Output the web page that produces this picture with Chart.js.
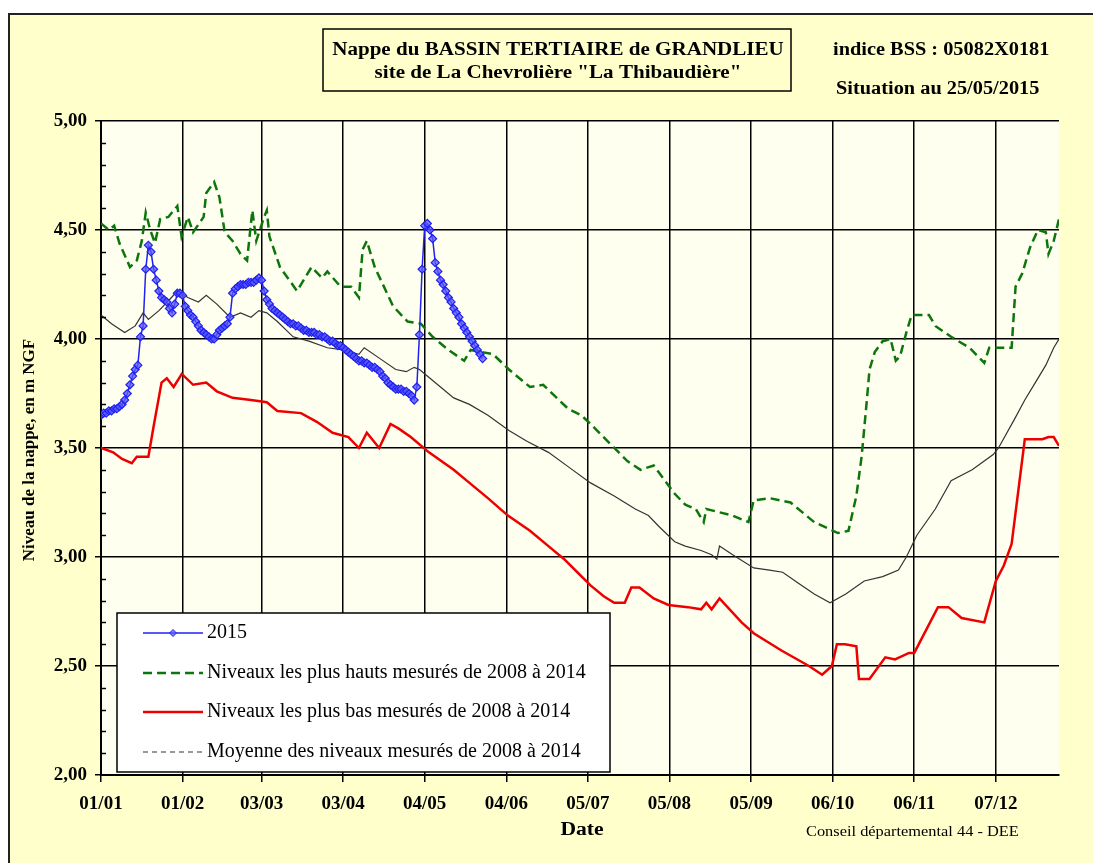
<!DOCTYPE html>
<html>
<head>
<meta charset="utf-8">
<script src="https://cdn.jsdelivr.net/npm/chart.js@4.4.0/dist/chart.umd.min.js"></script>
<style>
  html, body { margin: 0; padding: 0; background: #fff; }
</style>
</head>
<body>
<canvas id="nappeGraph" width="1093" height="863"></canvas>
<script>
// axe des dates (jour de l'annee) et libelles
const tickDays = [0, 31, 61, 92, 123, 154, 185, 216, 247, 278, 309, 340];
const tickLabels = ['01/01', '01/02', '03/03', '03/04', '04/05', '04/06', '05/07', '05/08', '05/09', '06/10', '06/11', '07/12'];

// 2015 : un releve par jour depuis le 01/01
const niveaux2015 = [
  3.65, 3.66, 3.66, 3.67, 3.67, 3.68, 3.68, 3.69, 3.70, 3.72,
  3.75, 3.79, 3.83, 3.86, 3.88, 4.01, 4.06, 4.32, 4.43, 4.40,
  4.32, 4.27, 4.22, 4.19, 4.18, 4.17, 4.14, 4.12, 4.16, 4.21,
  4.21, 4.20, 4.15, 4.13, 4.11, 4.10, 4.08, 4.06, 4.04, 4.03,
  4.02, 4.01, 4.00, 4.00, 4.02, 4.04, 4.05, 4.06, 4.07, 4.10,
  4.21, 4.23, 4.24, 4.25, 4.25, 4.25, 4.26, 4.26, 4.26, 4.27,
  4.28, 4.27, 4.22, 4.18, 4.16, 4.14, 4.13, 4.12, 4.11, 4.10,
  4.09, 4.08, 4.07, 4.07, 4.06, 4.06, 4.05, 4.04, 4.04, 4.03,
  4.03, 4.03, 4.02, 4.02, 4.01, 4.01, 4.00, 3.99, 3.99, 3.98,
  3.97, 3.97, 3.96, 3.95, 3.94, 3.93, 3.92, 3.91, 3.90, 3.90,
  3.89, 3.89, 3.88, 3.87, 3.87, 3.86, 3.85, 3.83, 3.82, 3.80,
  3.79, 3.78, 3.77, 3.77, 3.77, 3.76, 3.76, 3.75, 3.74, 3.72,
  3.78, 4.02, 4.32, 4.52, 4.53, 4.50, 4.46, 4.35, 4.31, 4.27,
  4.25, 4.22, 4.19, 4.17, 4.14, 4.12, 4.10, 4.07, 4.05, 4.03,
  4.01, 3.99, 3.97, 3.95, 3.93, 3.91
];

// niveaux les plus hauts 2008-2014
const joursHauts = [0, 3, 5, 7, 11, 13.6, 15.5, 17, 18.7, 20.5, 22.5, 25.6, 29, 30.6, 33, 35, 39, 40, 43, 45, 47, 50, 53, 55.5, 57.5, 59, 62, 63, 64, 68, 74.5, 80, 84, 86, 91, 95, 98, 99.4, 101, 104, 111, 116.5, 121.5, 126, 132, 138, 140.5, 149, 155, 163, 168, 177.5, 182.5, 186, 200, 205, 210, 218, 222, 226, 229, 230, 240, 246, 248, 254, 262, 271, 280, 284, 287, 289, 291, 292, 294, 297, 300, 302, 303.6, 306, 308, 314.6, 317, 323, 330, 335.6, 337.5, 342.5, 346, 347.5, 350, 353, 356, 359, 360, 362, 364];
const niveauxHauts = [4.53, 4.50, 4.52, 4.44, 4.33, 4.36, 4.45, 4.58, 4.50, 4.44, 4.55, 4.56, 4.61, 4.47, 4.56, 4.49, 4.56, 4.67, 4.72, 4.65, 4.49, 4.45, 4.39, 4.36, 4.59, 4.45, 4.56, 4.59, 4.47, 4.33, 4.22, 4.33, 4.28, 4.31, 4.24, 4.24, 4.19, 4.41, 4.45, 4.33, 4.15, 4.08, 4.07, 4.01, 3.95, 3.90, 3.95, 3.93, 3.86, 3.78, 3.79, 3.68, 3.65, 3.61, 3.44, 3.40, 3.42, 3.29, 3.24, 3.22, 3.16, 3.22, 3.19, 3.16, 3.26, 3.27, 3.25, 3.16, 3.11, 3.12, 3.28, 3.46, 3.72, 3.86, 3.94, 3.99, 4.00, 3.90, 3.92, 4.03, 4.11, 4.11, 4.06, 4.01, 3.96, 3.89, 3.96, 3.96, 3.96, 4.24, 4.30, 4.42, 4.50, 4.49, 4.39, 4.45, 4.55];

// niveaux les plus bas 2008-2014
const joursBas = [0, 4.6, 8, 11.7, 13.6, 18, 20, 23, 25, 27.6, 30.7, 35, 40, 44, 50, 57, 63, 67, 76, 82, 88, 94, 98, 101, 105.7, 110, 113, 117.7, 124.6, 134, 140, 147, 154.6, 163, 170, 176, 181, 186, 191, 195, 199, 201.5, 204.6, 210, 215.6, 223, 228, 230, 232, 235, 243.4, 248, 258.7, 269, 274, 277.7, 279.6, 282.7, 287, 288, 292, 298, 301.7, 307, 309, 318, 322, 327, 335.6, 340, 343, 346, 351, 357.7, 360, 362, 364];
const niveauxBas = [3.50, 3.48, 3.45, 3.43, 3.46, 3.46, 3.60, 3.80, 3.82, 3.78, 3.84, 3.79, 3.80, 3.76, 3.73, 3.72, 3.71, 3.67, 3.66, 3.62, 3.57, 3.55, 3.50, 3.57, 3.50, 3.61, 3.59, 3.55, 3.48, 3.40, 3.34, 3.27, 3.19, 3.12, 3.05, 2.99, 2.93, 2.87, 2.82, 2.79, 2.79, 2.86, 2.86, 2.81, 2.78, 2.77, 2.76, 2.79, 2.76, 2.81, 2.70, 2.65, 2.57, 2.50, 2.46, 2.50, 2.60, 2.60, 2.59, 2.44, 2.44, 2.54, 2.53, 2.56, 2.56, 2.77, 2.77, 2.72, 2.70, 2.89, 2.96, 3.06, 3.54, 3.54, 3.55, 3.55, 3.51];

// moyenne 2008-2014
const joursMoy = [0, 4, 9, 13, 16, 18, 22, 26, 29, 33, 37, 40, 44, 49, 53, 57, 60, 63, 67, 73, 79, 86, 92, 98, 100, 106, 112, 116, 119, 121, 125, 129, 134, 140, 147, 155, 162, 170, 178, 186, 195, 203, 208, 212, 218, 222, 228, 232, 234, 235, 240, 248, 254, 259, 265, 271, 277, 283, 290, 297, 303, 306, 310, 317, 323, 331, 339, 341, 347, 351, 355, 359, 362, 364];
const niveauxMoy = [4.11, 4.07, 4.03, 4.06, 4.12, 4.09, 4.13, 4.18, 4.22, 4.19, 4.17, 4.20, 4.16, 4.10, 4.12, 4.10, 4.13, 4.12, 4.08, 4.01, 3.99, 3.96, 3.95, 3.93, 3.96, 3.91, 3.86, 3.85, 3.87, 3.86, 3.82, 3.78, 3.73, 3.70, 3.65, 3.58, 3.53, 3.48, 3.41, 3.34, 3.28, 3.22, 3.19, 3.14, 3.07, 3.05, 3.03, 3.01, 2.99, 3.05, 3.01, 2.95, 2.94, 2.93, 2.88, 2.83, 2.79, 2.83, 2.89, 2.91, 2.94, 3.00, 3.10, 3.22, 3.35, 3.40, 3.47, 3.50, 3.63, 3.72, 3.80, 3.88, 3.96, 4.00];

const toPoints = (xs, ys) => xs.map((x, i) => ({ x: x, y: ys[i] }));
const serif = '"Liberation Serif", "Times New Roman", serif';

// texte etire horizontalement (l'original est elargi)
function wideText(ctx, text, x, y, sx, align) {
  ctx.save();
  ctx.translate(x, y);
  ctx.scale(sx, 1);
  ctx.textAlign = align;
  ctx.fillText(text, 0, 0);
  ctx.restore();
}

// fond jaune, cadre, zone de trace
const backgroundPlugin = {
  id: 'fond',
  beforeDraw(chart) {
    const ctx = chart.ctx;
    const a = chart.chartArea;
    ctx.save();
    ctx.fillStyle = '#ffffff';
    ctx.fillRect(0, 0, chart.width, chart.height);
    ctx.fillStyle = '#ffffcc';
    ctx.fillRect(9, 14, chart.width, chart.height);
    ctx.strokeStyle = '#222';
    ctx.lineWidth = 2;
    ctx.beginPath();
    ctx.moveTo(9, chart.height);
    ctx.lineTo(9, 14);
    ctx.lineTo(chart.width, 14);
    ctx.stroke();
    ctx.fillStyle = '#fffff0';
    ctx.fillRect(a.left, a.top, a.right - a.left, a.bottom - a.top);
    ctx.restore();
  }
};

// textes, graduations secondaires et legende
const decorPlugin = {
  id: 'decor',
  afterDraw(chart) {
    const ctx = chart.ctx;
    const a = chart.chartArea;
    const yScale = chart.scales.y;
    ctx.save();

    // graduations secondaires (0,1)
    ctx.strokeStyle = '#000';
    ctx.lineWidth = 1.5;
    for (let v = 21; v < 50; v++) {
      if (v % 5 === 0) continue;
      const py = Math.round(yScale.getPixelForValue(v / 10)) + 0.5;
      ctx.beginPath();
      ctx.moveTo(a.left, py);
      ctx.lineTo(a.left + 5, py);
      ctx.stroke();
    }

    // cadre du titre
    ctx.lineWidth = 1.5;
    ctx.strokeStyle = '#000';
    ctx.strokeRect(323, 29, 468, 62);
    ctx.fillStyle = '#000';
    ctx.textBaseline = 'middle';
    ctx.font = 'bold 18px ' + serif;
    wideText(ctx, 'Nappe du BASSIN TERTIAIRE de GRANDLIEU', 558, 50, 1.17, 'center');
    wideText(ctx, 'site de La Chevrolière "La Thibaudière"', 558, 73, 1.17, 'center');
    wideText(ctx, 'indice BSS : 05082X0181', 833, 50, 1.13, 'left');
    wideText(ctx, 'Situation au 25/05/2015', 836, 89, 1.13, 'left');

    // titres des axes
    wideText(ctx, 'Date', 582, 830, 1.2, 'center');
    ctx.save();
    ctx.translate(30, 450);
    ctx.rotate(-Math.PI / 2);
    ctx.font = 'bold 17px ' + serif;
    ctx.textAlign = 'center';
    ctx.fillText('Niveau de la nappe, en m NGF', 0, 0);
    ctx.restore();
    ctx.font = '14px ' + serif;
    wideText(ctx, 'Conseil départemental 44 - DEE', 806, 832, 1.17, 'left');

    // legende
    ctx.fillStyle = '#ffffff';
    ctx.fillRect(117, 613, 493, 159);
    ctx.strokeStyle = '#000';
    ctx.lineWidth = 1.5;
    ctx.strokeRect(117, 613, 493, 159);
    const rows = [633, 673, 712, 752];
    chart.data.datasets.forEach((ds, i) => {
      const y = rows[i];
      ctx.save();
      ctx.strokeStyle = ds.borderColor;
      ctx.lineWidth = ds.borderWidth;
      ctx.setLineDash(ds.legendDash || ds.borderDash || []);
      ctx.beginPath();
      ctx.moveTo(143, y);
      ctx.lineTo(203, y);
      ctx.stroke();
      ctx.setLineDash([]);
      if (ds.pointRadius > 0) {
        ctx.fillStyle = ds.pointBackgroundColor;
        ctx.strokeStyle = ds.pointBorderColor;
        ctx.lineWidth = 1;
        ctx.beginPath();
        ctx.moveTo(173, y - 3.5);
        ctx.lineTo(176.5, y);
        ctx.lineTo(173, y + 3.5);
        ctx.lineTo(169.5, y);
        ctx.closePath();
        ctx.fill();
        ctx.stroke();
      }
      ctx.restore();
      ctx.fillStyle = '#000';
      ctx.font = '20px ' + serif;
      ctx.textBaseline = 'middle';
      ctx.textAlign = 'left';
      ctx.fillText(ds.label, 207, y);
    });
    ctx.restore();
  }
};

new Chart(document.getElementById('nappeGraph').getContext('2d'), {
  type: 'line',
  data: {
    datasets: [
      {
        label: '2015',
        data: niveaux2015.map((v, i) => ({ x: i, y: v })),
        borderColor: '#2020f0',
        borderWidth: 1.5,
        pointStyle: 'rectRot',
        pointRadius: 4,
        pointBackgroundColor: 'rgba(90,90,255,0.75)',
        pointBorderColor: '#2020f0',
        pointBorderWidth: 1.2,
        tension: 0
      },
      {
        label: 'Niveaux les plus hauts mesurés de 2008 à 2014',
        data: toPoints(joursHauts, niveauxHauts),
        borderColor: '#0c760c',
        borderWidth: 2.5,
        borderDash: [9, 5],
        pointRadius: 0,
        tension: 0
      },
      {
        label: 'Niveaux les plus bas mesurés de 2008 à 2014',
        data: toPoints(joursBas, niveauxBas),
        borderColor: '#ee0000',
        borderWidth: 2.5,
        pointRadius: 0,
        tension: 0
      },
      {
        label: 'Moyenne des niveaux mesurés de 2008 à 2014',
        data: toPoints(joursMoy, niveauxMoy),
        borderColor: '#333333',
        borderWidth: 1.2,
        legendDash: [5, 4],
        pointRadius: 0,
        tension: 0
      }
    ]
  },
  options: {
    responsive: false,
    animation: false,
    layout: { padding: { left: 0, top: 121, right: 34, bottom: 0 } },
    plugins: {
      legend: { display: false },
      tooltip: { enabled: false }
    },
    scales: {
      x: {
        type: 'linear',
        min: 0,
        max: 364,
        afterBuildTicks: scale => { scale.ticks = tickDays.map(v => ({ value: v })); },
        afterFit: scale => { scale.height = 88; },
        grid: { color: '#000', lineWidth: 1.5, tickLength: 7 },
        border: { color: '#000', width: 2 },
        ticks: {
          autoSkip: false,
          maxRotation: 0,
          padding: 11,
          color: '#000',
          font: { family: serif, size: 19, weight: 'bold' },
          callback: (v, i) => tickLabels[i]
        }
      },
      y: {
        min: 2,
        max: 5,
        afterFit: scale => { scale.width = 101; },
        grid: { color: '#000', lineWidth: 1.5, tickLength: 6 },
        border: { color: '#000', width: 2 },
        ticks: {
          stepSize: 0.5,
          padding: 8,
          color: '#000',
          font: { family: serif, size: 19, weight: 'bold' },
          callback: v => v.toFixed(2).replace('.', ',')
        }
      }
    }
  },
  plugins: [backgroundPlugin, decorPlugin]
});
</script>
</body>
</html>
